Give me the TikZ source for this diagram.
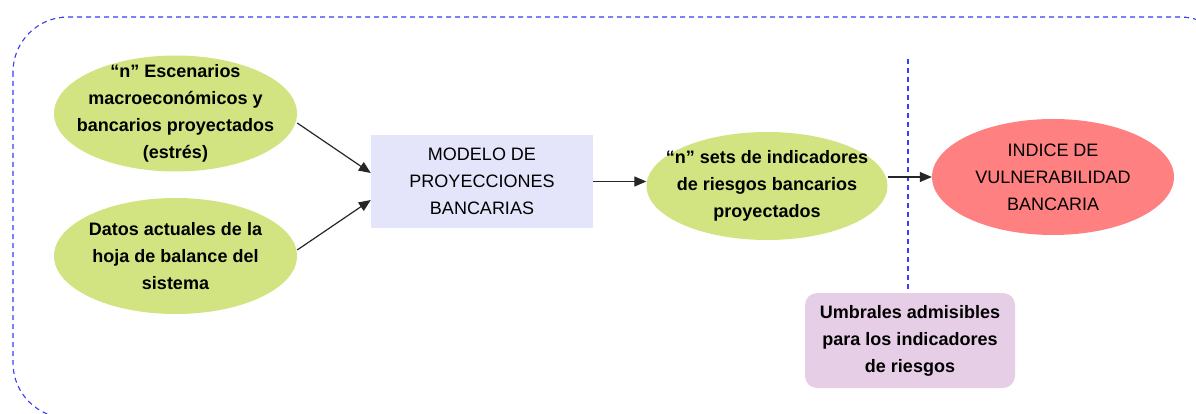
\documentclass[tikz,border=0pt]{standalone}
\usepackage{fontspec}
\setmainfont{Liberation Sans}
\usetikzlibrary{shapes.geometric,arrows.meta,calc}
\definecolor{greenfill}{RGB}{210,228,130}
\definecolor{boxfill}{RGB}{228,228,250}
\definecolor{redfill}{RGB}{255,128,128}
\definecolor{purplefill}{RGB}{230,206,230}
\definecolor{dashblue}{RGB}{60,60,240}
\tikzset{
  every node/.style={font=\fontsize{18}{27}\selectfont, align=center, inner sep=0pt},
  boldtext/.style={font=\fontsize{18}{27}\selectfont\bfseries, align=center, inner sep=0pt},
  plaintext/.style={font=\fontsize{18}{27}\selectfont, align=center, inner sep=0pt},
  greenell/.style={ellipse, fill=greenfill, minimum width=243pt, minimum height=116pt},
  redell/.style={ellipse, fill=redfill, minimum width=242pt, minimum height=116pt},
  modelbox/.style={rectangle, fill=boxfill, minimum width=222pt, minimum height=93pt},
  umbralbox/.style={rectangle, rounded corners=12pt, fill=purplefill, minimum width=210pt, minimum height=95pt, font=\fontsize{18}{27}\selectfont\bfseries},
  conn/.style={-{Triangle[length=12pt,width=10pt]}, line width=1.2pt, black!85},
  sep/.style={dashblue, line width=1.1pt, dash pattern=on 5pt off 4pt}
}
\begin{document}
\begin{tikzpicture}[x=1pt,y=-1pt]
\useasboundingbox (0,0) rectangle (1196,414);
\begin{scope}
\clip (0,0) rectangle (1196,414);
\draw[sep, rounded corners=55pt] (13,17) rectangle (1235,418);
\end{scope}
\node[greenell, label={[boldtext]center:“n” Escenarios\\macroeconómicos y\\bancarios proyectados\\(estrés)}] (e1) at (175.5,113.5) {};
\node[greenell, label={[boldtext]center:Datos actuales de la\\hoja de balance del\\sistema}] (e2) at (175.5,256) {};
\node[modelbox] (box) at (482,181.5) {MODELO DE\\PROYECCIONES\\BANCARIAS};
\node[greenell, minimum width=241pt, minimum height=108pt, label={[boldtext]center:“n” sets de indicadores\\de riesgos bancarios\\proyectados}] (e3) at (767,186) {};
\node[redell, label={[plaintext]center:INDICE DE\\VULNERABILIDAD\\BANCARIA}] (red) at (1053,177) {};
\node[umbralbox] (umb) at (910,340.5) {Umbrales admisibles\\para los indicadores\\de riesgos};
\draw[sep] (908,59) -- (908,290);
\draw[conn] ($(e1.east)+(0,9.5)$) -- ($(box.west)+(0,-8.5)$);
\draw[conn] ($(e2.east)+(0,-6)$) -- ($(box.west)+(0,18.5)$);
\draw[conn] (box.east) -- (box.east -| e3.west);
\draw[conn] (red.west -| e3.east) -- (red.west);
\end{tikzpicture}
\end{document}
